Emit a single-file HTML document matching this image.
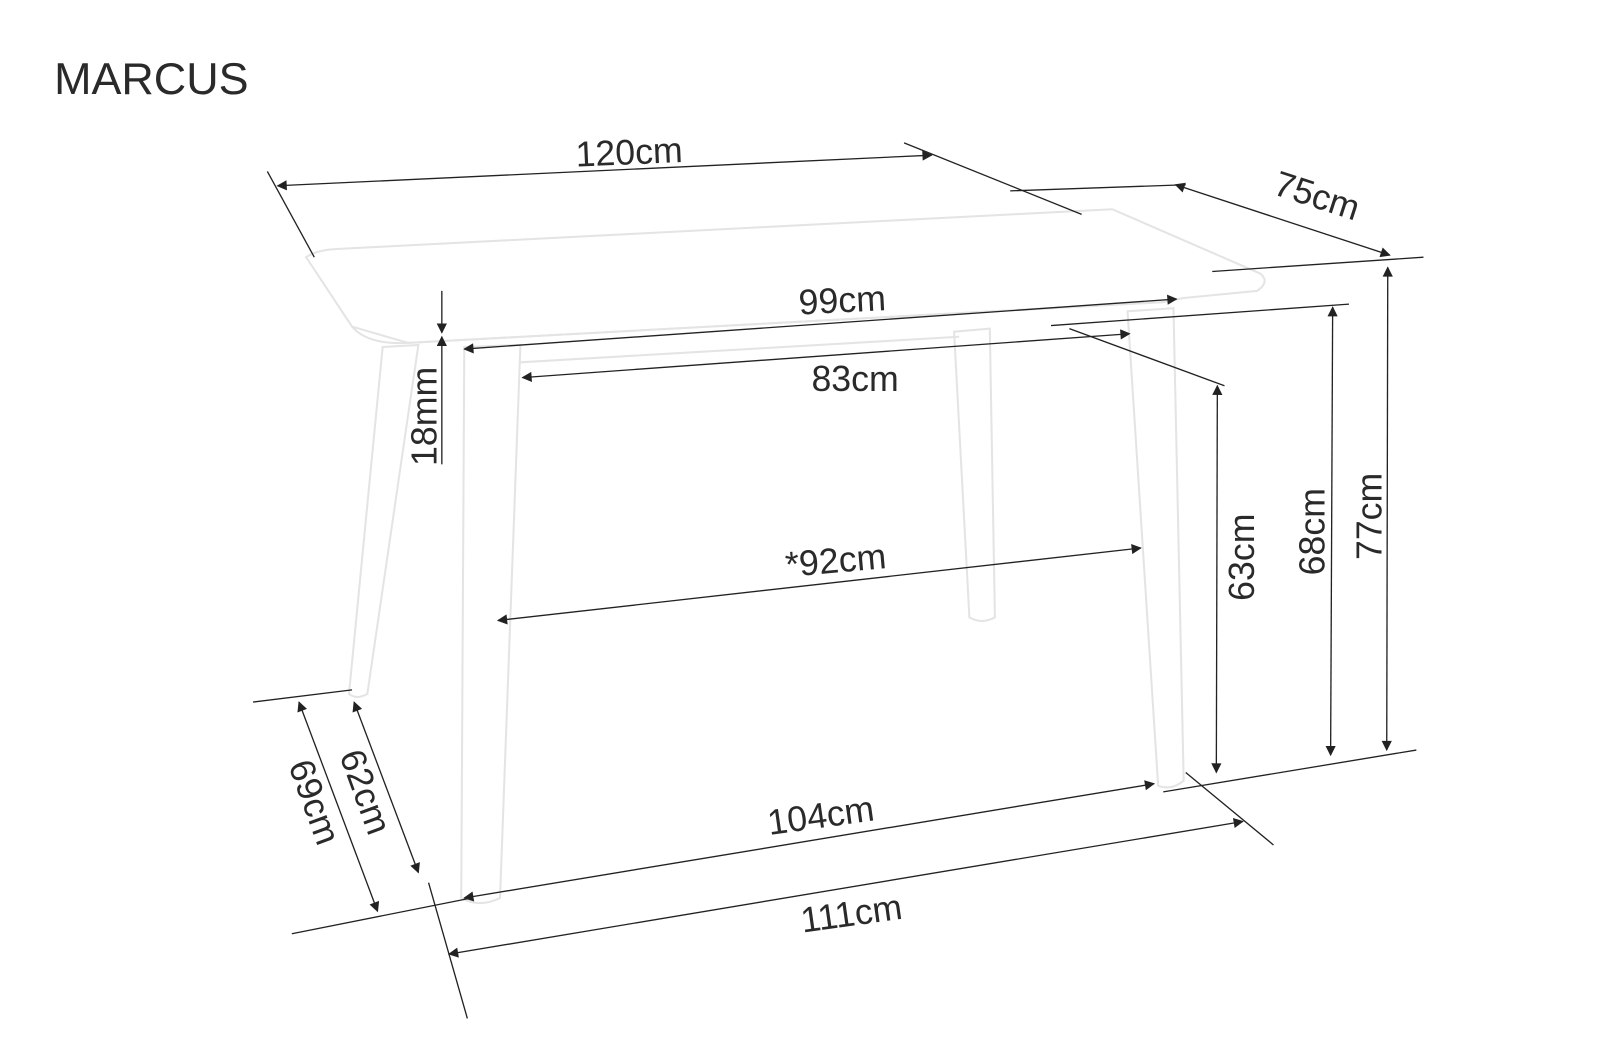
<!DOCTYPE html>
<html><head><meta charset="utf-8">
<style>
html,body{margin:0;padding:0;background:#fff;}
svg{display:block;}
text{font-family:"Liberation Sans",sans-serif;fill:#2a2a2a;}
</style></head>
<body>
<svg width="1600" height="1045" viewBox="0 0 1568 1024" xmlns="http://www.w3.org/2000/svg">
<defs>
<marker id="a" viewBox="0 0 10 10" refX="9" refY="5" markerWidth="14" markerHeight="10" markerUnits="userSpaceOnUse" orient="auto-start-reverse">
<path d="M0,0 L10,5 L0,10 z" fill="#222"/>
</marker>
</defs>
<g fill="none" stroke="#e4e4e4" stroke-width="2">
<path d="M300,252 Q310,245 330,244 L1090,205 L1235,268 Q1245,276 1232,285 L1160,292 L1140,296 L400,336 Q360,338 345,320 Z"/>
<path d="M345,320 L400,336 L1140,296"/>
<path d="M455,340 L510,338 L490,880 Q470,890 452,880 Z"/>
<path d="M1105,305 L1150,302 L1160,765 Q1148,775 1135,770 Z"/>
<path d="M935,325 L970,322 L975,605 Q962,612 950,605 Z"/>
<path d="M375,340 L410,338 L360,680 Q350,686 342,680 Z"/>
<path d="M510,355 L940,330"/>
</g>
<text x="53" y="92" font-size="44">MARCUS</text>
<g stroke="#222" stroke-width="1.3" fill="none">
<line x1="262" y1="168" x2="308" y2="252"/>
<line x1="886" y1="140" x2="1060" y2="210"/>
<line x1="990" y1="187" x2="1162" y2="181"/>
<line x1="1188" y1="266" x2="1395" y2="252"/>
<line x1="1030" y1="319" x2="1322" y2="298"/>
<line x1="1048" y1="322" x2="1200" y2="378"/>
<line x1="1140" y1="776" x2="1388" y2="735"/>
<line x1="1162" y1="757" x2="1248" y2="828"/>
<line x1="286" y1="915" x2="462" y2="880"/>
<line x1="420" y1="865" x2="458" y2="998"/>
<line x1="248" y1="688" x2="345" y2="676"/>
<line x1="272" y1="182" x2="913" y2="152" marker-start="url(#a)" marker-end="url(#a)"/>
<line x1="1152" y1="181" x2="1362" y2="250" marker-start="url(#a)" marker-end="url(#a)"/>
<line x1="1360" y1="262" x2="1359" y2="735" marker-start="url(#a)" marker-end="url(#a)"/>
<line x1="1306" y1="301" x2="1304" y2="740" marker-start="url(#a)" marker-end="url(#a)"/>
<line x1="1193" y1="378" x2="1192" y2="757" marker-start="url(#a)" marker-end="url(#a)"/>
<line x1="455" y1="342" x2="1153" y2="293" marker-start="url(#a)" marker-end="url(#a)"/>
<line x1="512" y1="370" x2="1107" y2="327" marker-start="url(#a)" marker-end="url(#a)"/>
<line x1="488" y1="608" x2="1118" y2="537" marker-start="url(#a)" marker-end="url(#a)"/>
<line x1="455" y1="880" x2="1131" y2="768" marker-start="url(#a)" marker-end="url(#a)"/>
<line x1="440" y1="935" x2="1218" y2="805" marker-start="url(#a)" marker-end="url(#a)"/>
<line x1="293" y1="688" x2="370" y2="893" marker-start="url(#a)" marker-end="url(#a)"/>
<line x1="347" y1="688" x2="410" y2="855" marker-start="url(#a)" marker-end="url(#a)"/>
<line x1="433" y1="285" x2="433" y2="326" marker-end="url(#a)"/>
<line x1="433" y1="455" x2="433" y2="330" marker-end="url(#a)"/>
</g>
<g font-size="35">
<text transform="translate(617,161) rotate(-2.5)" text-anchor="middle">120cm</text>
<text transform="translate(1287,203) rotate(18)" text-anchor="middle">75cm</text>
<text transform="translate(1354,506) rotate(-90)" text-anchor="middle">77cm</text>
<text transform="translate(1298,521) rotate(-90)" text-anchor="middle">68cm</text>
<text transform="translate(1229,546) rotate(-90)" text-anchor="middle">63cm</text>
<text transform="translate(826,306) rotate(-3)" text-anchor="middle">99cm</text>
<text transform="translate(838,383)" text-anchor="middle">83cm</text>
<text transform="translate(820,561) rotate(-5)" text-anchor="middle">*92cm</text>
<text transform="translate(806,811) rotate(-8)" text-anchor="middle">104cm</text>
<text transform="translate(836,907) rotate(-8)" text-anchor="middle">111cm</text>
<text transform="translate(428,408) rotate(-90)" text-anchor="middle">18mm</text>
<text transform="translate(297,790) rotate(70)" text-anchor="middle">69cm</text>
<text transform="translate(347,780) rotate(70)" text-anchor="middle">62cm</text>
</g>
</svg>
</body></html>
